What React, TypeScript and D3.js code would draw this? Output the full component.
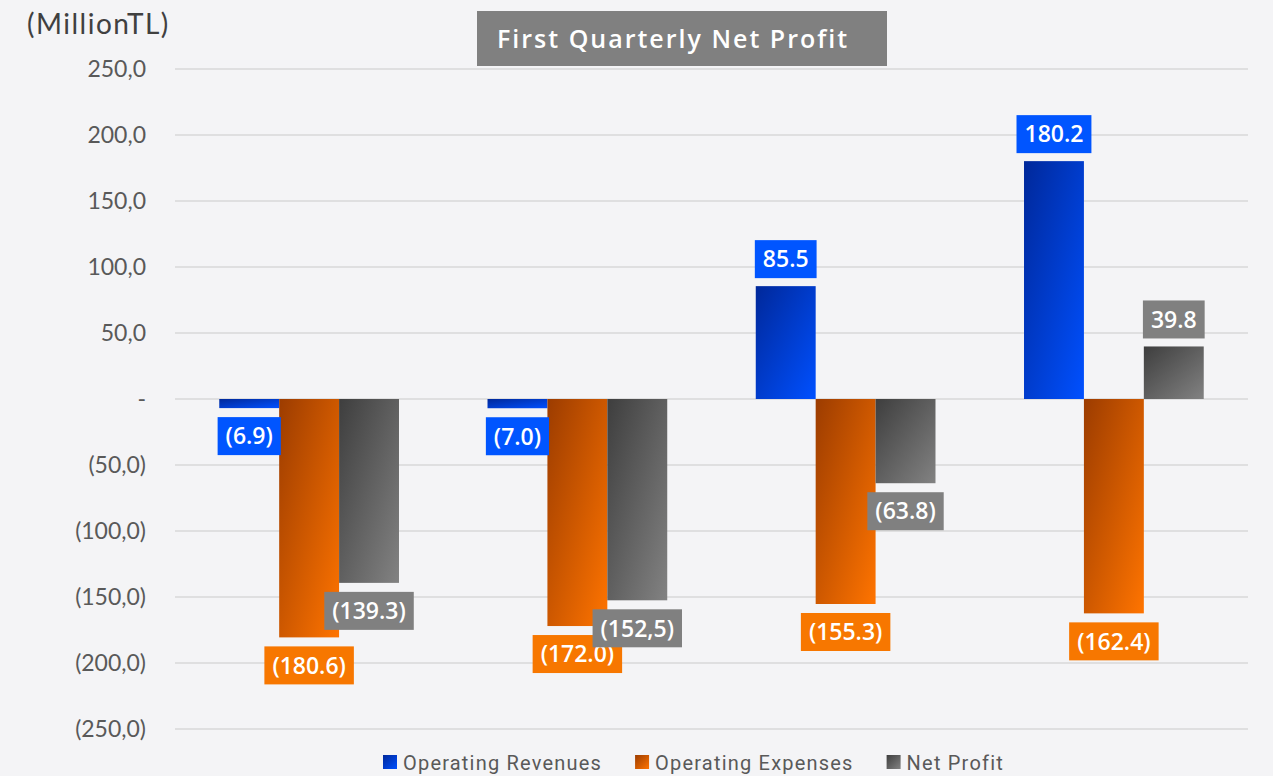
import React, { useEffect, useRef } from 'react';
import * as d3 from 'd3';

const quarters = ['Q1', 'Q2', 'Q3', 'Q4'];
const seriesNames = ['Operating Revenues', 'Operating Expenses', 'Net Profit'];
const revenues = [-6.9, -7.0, 85.5, 180.2];
const expenses = [-180.6, -172.0, -155.3, -162.4];
const netProfit = [-139.3, -152.5, -63.8, 39.8];
const revenueLabels = ['(6.9)', '(7.0)', '85.5', '180.2'];
const expenseLabels = ['(180.6)', '(172.0)', '(155.3)', '(162.4)'];
const netLabels = ['(139.3)', '(152,5)', '(63.8)', '39.8'];
const tickValues = [250, 200, 150, 100, 50, 0, -50, -100, -150, -200, -250];
const tickLabels = ['250,0', '200,0', '150,0', '100,0', '50,0', '-', '(50,0)', '(100,0)', '(150,0)', '(200,0)', '(250,0)'];

const seriesValues = [revenues, expenses, netProfit];
const seriesLabels = [revenueLabels, expenseLabels, netLabels];
const gradStops = [
  ['#00289a', '#0050ff'],
  ['#9c3c00', '#ff7400'],
  ['#3e3e3e', '#828282'],
];
const boxColors = ['#0055ff', '#f77700', '#808080'];

const W = 1273;
const H = 776;

const App = () => {
  const svgRef = useRef<SVGSVGElement>(null);

  useEffect(() => {
    const svg = d3.select(svgRef.current);
    svg.selectAll('*').remove();

    svg.append('rect').attr('width', W).attr('height', H).attr('fill', '#f4f4f6');

    const defs = svg.append('defs');
    gradStops.forEach((s, i) => {
      const g = defs.append('linearGradient')
        .attr('id', `grad-${i}`)
        .attr('x1', 0).attr('y1', 0).attr('x2', 1).attr('y2', 1);
      g.append('stop').attr('offset', '0%').attr('stop-color', s[0]);
      g.append('stop').attr('offset', '100%').attr('stop-color', s[1]);
    });

    const y = d3.scaleLinear().domain([-250, 250]).range([729, 69]);
    const x0 = d3.scaleBand().domain(quarters).range([175, 1248])
      .paddingInner(0.33).paddingOuter(0.165);
    const x1 = d3.scaleBand().domain(seriesNames).range([0, x0.bandwidth()]);

    // grid
    svg.append('g')
      .selectAll('line')
      .data(tickValues)
      .enter()
      .append('line')
      .attr('x1', 175).attr('x2', 1248)
      .attr('y1', d => y(d)).attr('y2', d => y(d))
      .attr('stroke', '#d9d9d9')
      .attr('stroke-width', 1.5);

    // tick labels
    svg.append('g')
      .selectAll('text')
      .data(tickValues)
      .enter()
      .append('text')
      .attr('x', 146)
      .attr('y', d => y(d))
      .attr('dy', '0.35em')
      .attr('text-anchor', 'end')
      .style('font-family', 'Lato, sans-serif')
      .style('font-size', '23px')
      .style('fill', '#595959')
      .text((d, i) => tickLabels[i]);

    svg.append('text')
      .attr('x', 27).attr('y', 34)
      .style('font-family', 'Lato, sans-serif')
      .style('font-size', '28px')
      .style('letter-spacing', '1.5px')
      .style('fill', '#404040')
      .text('(MillionTL)');

    // bars
    seriesNames.forEach((name, si) => {
      svg.append('g')
        .selectAll('rect')
        .data(seriesValues[si])
        .enter()
        .append('rect')
        .attr('x', (d, i) => x0(quarters[i])! + x1(name)!)
        .attr('y', d => y(Math.max(0, d)))
        .attr('width', x1.bandwidth())
        .attr('height', d => Math.abs(y(d) - y(0)))
        .attr('fill', `url(#grad-${si})`);
    });

    // value labels
    seriesNames.forEach((name, si) => {
      seriesValues[si].forEach((v, i) => {
        const cx = x0(quarters[i])! + x1(name)! + x1.bandwidth() / 2;
        const boxH = 38;
        const top = v < 0 ? y(v) + 9 : y(v) - 8 - boxH;
        const g = svg.append('g');
        const t = g.append('text')
          .attr('x', cx)
          .attr('y', top + boxH / 2)
          .attr('dy', '0.36em')
          .attr('text-anchor', 'middle')
          .style('font-family', '"Open Sans", sans-serif')
          .style('font-weight', 600)
          .style('font-size', '23px')
          .style('fill', '#ffffff')
          .text(seriesLabels[si][i]);
        const tw = (t.node() as SVGTextElement).getComputedTextLength();
        g.insert('rect', 'text')
          .attr('x', cx - tw / 2 - 8)
          .attr('y', top)
          .attr('width', tw + 16)
          .attr('height', boxH)
          .attr('fill', boxColors[si]);
      });
    });

    // title
    svg.append('rect')
      .attr('x', 477).attr('y', 11)
      .attr('width', 410).attr('height', 55)
      .attr('fill', '#808080');
    svg.append('text')
      .attr('x', 497).attr('y', 48)
      .style('font-family', '"Open Sans", sans-serif')
      .style('font-weight', 600)
      .style('font-size', '25px')
      .style('letter-spacing', '2px')
      .style('fill', '#ffffff')
      .text('First Quarterly Net Profit');

    // legend
    const legend = svg.append('g');
    let lx = 383;
    seriesNames.forEach((name, si) => {
      legend.append('rect')
        .attr('x', lx).attr('y', 755)
        .attr('width', 14).attr('height', 14)
        .attr('fill', `url(#grad-${si})`);
      const t = legend.append('text')
        .attr('x', lx + 20).attr('y', 770)
        .style('font-family', 'Roboto, sans-serif')
        .style('font-size', '20px')
        .style('letter-spacing', '1.2px')
        .style('fill', '#595959')
        .text(name);
      lx += 20 + (t.node() as SVGTextElement).getComputedTextLength() + 33;
    });
  }, []);

  return (
    <div style={{ position: 'absolute', left: 0, top: 0 }}>
      <svg ref={svgRef} width={W} height={H} style={{ display: 'block' }} />
    </div>
  );
};

export default App;
